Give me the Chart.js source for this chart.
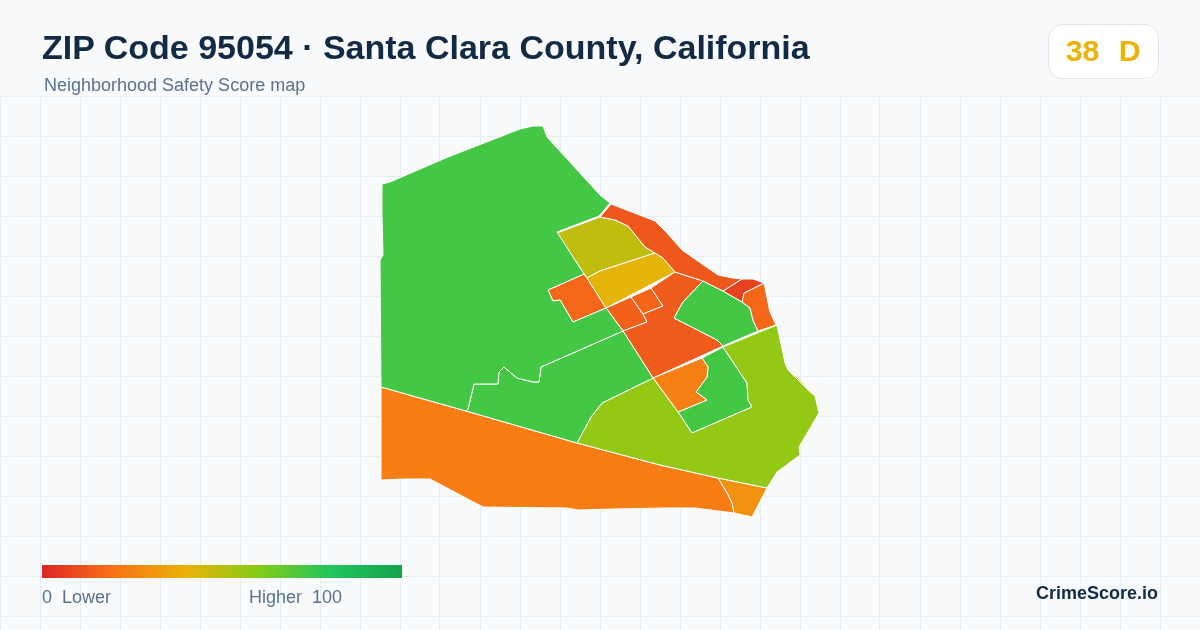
<!DOCTYPE html>
<html>
<head>
<meta charset="utf-8">
<title>ZIP Code 95054 Safety Score map</title>
<script src="https://cdn.jsdelivr.net/npm/chart.js@4/dist/chart.umd.min.js"></script>
<style>
  html, body { margin: 0; padding: 0; background: #f8fafc; }
  #page { position: relative; width: 1200px; height: 630px; overflow: hidden; font-family: "Liberation Sans", Arial, sans-serif; }
  #map { position: absolute; left: 0; top: 0; }
  .label { position: absolute; white-space: pre; line-height: 1; }
  #title { left: 42px; top: 30px; font-size: 34px; font-weight: 700; color: #132a45; }
  #subtitle { left: 44px; top: 76px; font-size: 18px; color: #5b7190; }
  #badge { position: absolute; left: 1048px; top: 24px; width: 109px; height: 53px; background: #fff; border: 1px solid #e2e8f0; border-radius: 14px; }
  #score { left: 1066px; top: 36px; font-size: 30px; font-weight: 700; color: #eab308; word-spacing: 1.5px; }
  #bar { position: absolute; left: 42px; top: 565px; width: 360px; height: 13px; }
  #low { left: 42px; top: 588px; font-size: 18px; color: #5b7190; }
  #high { left: 249px; top: 588px; font-size: 18px; color: #5b7190; }
  #brand { right: 42px; top: 584px; font-size: 18px; font-weight: 700; color: #132a45; }
</style>
</head>
<body>
<div id="page">
  <canvas id="map" width="1200" height="630"></canvas>
  <div class="label" id="title">ZIP Code 95054 · Santa Clara County, California</div>
  <div class="label" id="subtitle">Neighborhood Safety Score map</div>
  <div id="badge"></div>
  <div class="label" id="score">38  D</div>
  <div id="bar"></div>
  <div class="label" id="low">0  Lower</div>
  <div class="label" id="high">Higher  100</div>
  <div class="label" id="brand">CrimeScore.io</div>
</div>
<script>
// Tract outlines, in map units
const northWest = [[382,184],[390,182],[448,157],[520,129],[533,126],[543,126],[547,137],[600,195],[610,203],[599,216],[557,232],[584,274],[548,290],[553,301],[560,300],[573,322],[606,308],[623,331],[541,367],[539,382],[533,382],[517,378],[504,367],[499,372],[498,384],[474,384],[468,409],[466,411],[381,387],[380,260],[383,255],[382,215]];
const midSouth = [[623,331],[653,378],[602,403],[591,417],[577,443],[466,411],[468,409],[474,384],[498,384],[499,372],[504,367],[517,378],[533,382],[539,382],[541,367]];
const southEast = [[653,378],[602,403],[591,417],[577,443],[660,465],[718,478],[767,488],[777,472],[800,455],[799,447],[819,413],[815,396],[807,389],[788,370],[785,363],[777,325],[723,347],[747,383],[748,400],[752,407],[692,433],[678,412]];
const sliver = [[788,370],[798,378],[809,390],[807,389]];
const southBand = [[381,387],[466,411],[577,443],[660,465],[718,478],[727,493],[732,503],[734,513],[695,508],[665,508],[612,509],[578,510],[567,508],[483,507],[430,479],[405,479],[381,480]];
const southTip = [[718,478],[767,488],[752,517],[734,513],[732,503],[727,493]];
const innerOrange = [[653,378],[702,358],[708,367],[707,377],[696,392],[707,400],[678,412]];
const innerGreen = [[723,347],[747,383],[748,400],[752,407],[692,433],[678,412],[707,400],[696,392],[707,377],[708,367],[702,358]];
const northStrip = [[611,204],[655,221],[667,233],[682,250],[718,275],[733,278],[742,279],[723,291],[703,281],[675,272],[663,258],[655,253],[645,247],[628,226],[615,220],[600,217]];
const northEastRed = [[723,291],[742,279],[753,279],[764,283],[744,293],[742,302]];
const eastOrange = [[764,283],[770,312],[776,325],[758,331],[753,320],[750,308],[742,302],[744,293]];
const eastGreen = [[703,281],[723,291],[742,302],[750,308],[753,320],[758,331],[723,346],[717,340],[674,318],[683,302]];
const center = [[675,272],[703,281],[683,302],[674,318],[717,340],[723,346],[653,378],[623,331],[647,322],[643,314],[663,306],[651,288]];
const centerSmall = [[631,297],[651,288],[663,306],[643,314]];
const centerWest = [[606,308],[631,297],[643,314],[647,322],[623,331]];
const yellowTract = [[587,278],[600,271],[655,253],[663,258],[675,272],[606,308]];
const oliveTract = [[557,233],[600,217],[615,220],[628,226],[645,247],[655,253],[600,271],[587,278]];
const westOrange = [[584,274],[548,290],[553,301],[560,300],[573,322],[606,308],[587,278]];

const tracts = [northWest, midSouth, southEast, sliver, southBand, southTip, innerOrange, innerGreen, northStrip, northEastRed, eastOrange, eastGreen, center, centerSmall, centerWest, yellowTract, oliveTract, westOrange];
const tractScores = [73, 73, 57, 35, 23, 29, 24, 73, 13, 7, 17, 73, 14, 16, 15, 41, 48, 17];

// Legend scale, evenly spaced from 0 to 100
const legendStops = ["#dc2626", "#f97316", "#eab308", "#84cc16", "#22c55e", "#16a34a"];

function hexToRgb(hex) {
  return [1, 3, 5].map((i) => parseInt(hex.slice(i, i + 2), 16));
}

function scoreColor(score) {
  const pos = (score / 100) * (legendStops.length - 1);
  const i = Math.min(Math.floor(pos), legendStops.length - 2);
  const a = hexToRgb(legendStops[i]);
  const b = hexToRgb(legendStops[i + 1]);
  const rgb = a.map((v, k) => Math.round(v + (b[k] - v) * (pos - i)));
  return `rgb(${rgb.join(",")})`;
}

document.getElementById("bar").style.background = `linear-gradient(to right, ${legendStops.join(",")})`;

const datasets = tracts.map((ring, i) => ({
  data: ring.concat([ring[0]]).map((p) => ({ x: p[0], y: p[1] })),
  showLine: true,
  fill: "shape",
  backgroundColor: scoreColor(tractScores[i]),
  borderColor: "#ffffff",
  borderWidth: 1,
  pointRadius: 0,
  tension: 0,
}));

new Chart(document.getElementById("map"), {
  type: "scatter",
  data: { datasets: datasets },
  options: {
    responsive: false,
    animation: false,
    events: [],
    layout: { padding: { top: 96 } },
    plugins: { legend: { display: false }, tooltip: { enabled: false } },
    scales: {
      x: {
        type: "linear",
        min: 0,
        max: 1200,
        ticks: { display: false, stepSize: 40 },
        border: { display: false },
        grid: { color: "#e7eef3", drawTicks: false },
      },
      y: {
        type: "linear",
        reverse: true,
        min: 96,
        max: 630,
        afterBuildTicks: (scale) => {
          const rows = [];
          for (let v = 96; v <= 630; v += 40) rows.push({ value: v });
          scale.ticks = rows;
        },
        ticks: { display: false },
        border: { display: false },
        grid: { color: "#e7eef3", drawTicks: false },
      },
    },
  },
});
</script>
</body>
</html>
